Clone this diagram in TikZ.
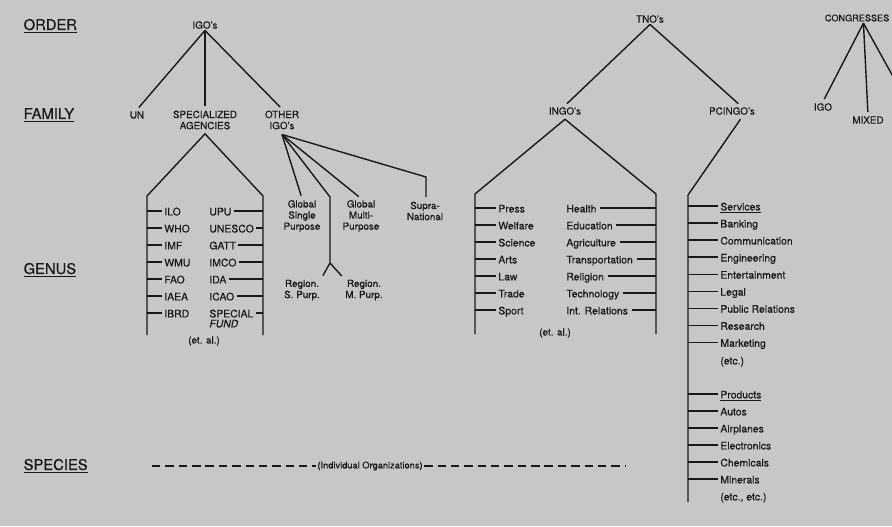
\documentclass[tikz,border=0pt]{standalone}
\usepackage{fontspec}
\setmainfont{TeX Gyre Heros}[FakeBold=0.5]
\definecolor{paper}{RGB}{199,199,197}
\definecolor{ink}{RGB}{25,25,25}
\tikzset{
  rank/.style={font=\fontsize{10.5}{12}\selectfont, text=ink, inner sep=1pt, anchor=west},
  lbl/.style={font=\fontsize{7}{7.9}\selectfont, text=ink, inner sep=1pt, align=center},
  item/.style={font=\fontsize{7.4}{8}\selectfont, text=ink, inner sep=1.5pt, anchor=west,
    text height=1.6ex, text depth=.4ex},
  link/.style={draw=ink, line width=1pt},
  branch/.style={link, shorten >=2pt},
}
\begin{document}
\begin{tikzpicture}[x=0.025cm,y=-0.025cm,line join=round]
  \fill[paper] (0,0) rectangle (892,526);
  \useasboundingbox (0,0) rectangle (892,526);
  \clip (0,0) rectangle (892,526);
  % ranks
  \node[rank] (order) at (22,26) {\underline{ORDER}};
  \node[rank] (family) at (22,115) {\underline{FAMILY}};
  \node[rank] (genus) at (22,270) {\underline{GENUS}};
  \node[rank] (species) at (22,466) {\underline{SPECIES}};
  % IGO's
  \node[lbl] (igo) at (205,25) {IGO's};
  \node[lbl] (un) at (137,115) {UN};
  \node[lbl] (spec) at (205,120) {SPECIALIZED\\AGENCIES};
  \node[lbl] (oigo) at (282,120) {OTHER\\IGO's};
  \draw[branch] (igo.south) -- (un.north);
  \draw[branch] (igo.south) -- (spec.north);
  \draw[branch] (igo.south) -- (oigo.north);
  \coordinate (sa-l) at (147,196);
  \coordinate (sa-r) at (263,196);
  \coordinate (sa-lb) at (147,335);
  \coordinate (sa-rb) at (263,335);
  \draw[link] (sa-lb) -- (sa-l) -- ([yshift=-2pt]spec.south) -- (sa-r) -- (sa-rb);
  \foreach \t [count=\i from 0] in {ILO,WHO,IMF,WMU,FAO,IAEA,IBRD} {
    \node[item] (sa-a\i) at (162,211+17*\i) {\t};
    \draw[link] (sa-a\i.west -| sa-l) -- (sa-a\i.west);
  }
  \foreach \t [count=\i from 0] in {UPU,UNESCO,GATT,IMCO,IDA,ICAO,SPECIAL} {
    \node[item] (sa-b\i) at (207,211+17*\i) {\t};
    \draw[link] (sa-b\i.east) -- (sa-b\i.east -| sa-r);
  }
  \node[item] (sa-fund) at (207,323) {\itshape FUND};
  \node[lbl] (sa-etal) at (204,341) {(et. al.)};
  \coordinate (oi-top) at ([yshift=-2.5pt]oigo.south);
  \node[lbl] (gsp) at (302,216) {Global\\Single\\Purpose};
  \node[lbl] (gmp) at (361,216) {Global\\Multi-\\Purpose};
  \node[lbl] (supra) at (425,211) {Supra-\\National};
  \node[lbl] (rsp) at (302,290) {Region.\\S. Purp.};
  \node[lbl] (rmp) at (364,290) {Region.\\M. Purp.};
  \coordinate (rg-k) at (330,197);
  \coordinate (rg-s) at (330,263);
  \coordinate (sn-k) at (426,177);
  \draw[branch] (oi-top) -- (gsp.north);
  \draw[branch] (oi-top) -- (gmp.north);
  \draw[branch] (oi-top) -- (sn-k) -- (supra.north -| sn-k);
  \draw[link] (oi-top) -- (rg-k) -- (rg-s);
  \draw[branch] (rg-s) -- (rsp.north east);
  \draw[branch] (rg-s) -- (rmp.north west);
  % TNO's
  \node[lbl] (tno) at (650,19) {TNO's};
  \node[lbl] (ingo) at (565,111) {INGO's};
  \node[lbl] (pcingo) at (732,111) {PCINGO's};
  \draw[branch] (tno.south) -- (ingo.north);
  \draw[branch] (tno.south) -- ([xshift=6pt]pcingo.north);
  \coordinate (in-l) at (475,194);
  \coordinate (in-r) at (656,194);
  \coordinate (in-lb) at (475,334);
  \coordinate (in-rb) at (656,334);
  \draw[link] (in-lb) -- (in-l) -- ([yshift=-2pt]ingo.south) -- (in-r) -- (in-rb);
  \foreach \t [count=\i from 0] in {Press,Welfare,Science,Arts,Law,Trade,Sport} {
    \node[item] (in-a\i) at (496,208+17*\i) {\t};
    \draw[link] (in-a\i.west -| in-l) -- (in-a\i.west);
  }
  \foreach \t [count=\i from 0] in {Health,Education,Agriculture,Transportation,Religion,Technology,Int. Relations} {
    \node[item] (in-b\i) at (564,208+17*\i) {\t};
    \draw[link] ([xshift=1pt]in-b\i.east) -- (in-b\i.east -| in-r);
  }
  \node[lbl] (in-etal) at (555,333) {(et. al.)};
  \coordinate (pc-k) at (688,195);
  \coordinate (pc-b) at (688,502);
  \draw[link] ([xshift=6pt,yshift=-2pt]pcingo.south) -- (pc-k) -- (pc-b);
  \foreach \t [count=\i from 0] in {\underline{Services},Banking,Communication,Engineering,Entertainment,Legal,Public Relations,Research,Marketing} {
    \node[item] (pc-s\i) at (718,206+17.05*\i) {\t};
    \draw[link] (pc-s\i.west -| pc-k) -- (pc-s\i.west);
  }
  \node[item] (pc-setc) at (718,360) {(etc.)};
  \foreach \t [count=\i from 0] in {\underline{Products},Autos,Airplanes,Electronics,Chemicals,Minerals} {
    \node[item] (pc-p\i) at (718,394+17*\i) {\t};
    \draw[link] (pc-p\i.west -| pc-k) -- (pc-p\i.west);
  }
  \node[item] (pc-petc) at (718,496) {(etc., etc.)};
  % congresses
  \node[lbl,font=\fontsize{6.5}{7}\selectfont,anchor=east] (cong) at (891,18) {CONGRESSES};
  \node[lbl] (c-igo) at (823,107) {IGO};
  \node[lbl] (c-mix) at (868,120) {MIXED};
  \coordinate (c-third) at (906,100);
  \draw[branch] ([xshift=4.5pt]cong.south) -- (c-igo.north);
  \draw[branch] ([xshift=4.5pt]cong.south) -- (c-mix.north);
  \draw[link] ([xshift=4.5pt]cong.south) -- (c-third);
  % species
  \node[lbl,font=\fontsize{6.6}{7}\selectfont] (indiv) at (370,466) {(Individual Organizations)};
  \coordinate (sp-l) at (152,466);
  \coordinate (sp-r) at (625,466);
  \draw[link,dash pattern=on 6pt off 3.5pt] (sp-l) -- (indiv.west);
  \draw[link,dash pattern=on 6pt off 3.5pt] (indiv.east) -- (sp-r);
\end{tikzpicture}
\end{document}
